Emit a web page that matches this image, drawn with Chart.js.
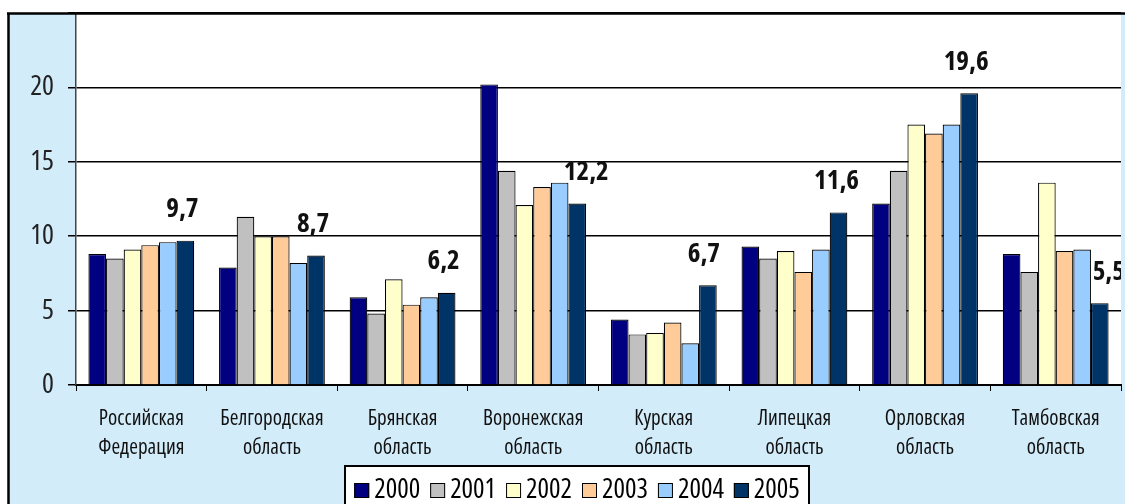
<!DOCTYPE html>
<html>
<head>
<meta charset="utf-8">
<script src="https://cdn.jsdelivr.net/npm/chart.js@4.4.1/dist/chart.umd.min.js"></script>
<style>
html,body{margin:0;padding:0;background:#fff;overflow:hidden;}
#wrap{position:relative;width:1125px;height:504px;}
</style>
</head>
<body>
<div id="wrap"><canvas id="c" width="1125" height="504"></canvas></div>
<script>
// ---- data ----
const categories = [
  ['Российская', 'Федерация'],
  ['Белгородская', 'область'],
  ['Брянская', 'область'],
  ['Воронежская', 'область'],
  ['Курская', 'область'],
  ['Липецкая', 'область'],
  ['Орловская', 'область'],
  ['Тамбовская', 'область']
];
const years = ['2000', '2001', '2002', '2003', '2004', '2005'];
const v2000 = [8.8, 7.9, 5.9, 20.2, 4.4, 9.3, 12.2, 8.8];
const v2001 = [8.5, 11.3, 4.8, 14.4, 3.4, 8.5, 14.4, 7.6];
const v2002 = [9.1, 10.0, 7.1, 12.1, 3.5, 9.0, 17.5, 13.6];
const v2003 = [9.4, 10.0, 5.4, 13.3, 4.2, 7.6, 16.9, 9.0];
const v2004 = [9.6, 8.2, 5.9, 13.6, 2.8, 9.1, 17.5, 9.1];
const v2005 = [9.7, 8.7, 6.2, 12.2, 6.7, 11.6, 19.6, 5.5];
const yTicks = [0, 5, 10, 15, 20];

// ---- styles ----
const seriesValues = [v2000, v2001, v2002, v2003, v2004, v2005];
const colors = ['#000080', '#C0C0C0', '#FFFFCC', '#FFCC99', '#99CCFF', '#003366'];
const FAMILY = "'Open Sans', 'DejaVu Sans Condensed', sans-serif";
const labelShift = [-3, -3, -3, 9, -4, -2, -3, 9];

const bgPlugin = {
  id: 'bg',
  beforeDraw(chart) {
    const ctx = chart.ctx, a = chart.chartArea;
    ctx.save();
    ctx.fillStyle = '#ffffff';
    ctx.fillRect(0, 0, chart.width, chart.height);
    ctx.fillStyle = '#D3ECFA';
    ctx.fillRect(8, 13, chart.width - 8, chart.height - 13);
    ctx.fillStyle = '#ffffff';
    ctx.fillRect(a.left, a.top, a.right - a.left, a.bottom - a.top);
    ctx.restore();
  },
  afterDraw(chart) {
    const ctx = chart.ctx;
    ctx.save();
    ctx.strokeStyle = '#000';
    ctx.lineWidth = 2.5;
    ctx.beginPath();
    ctx.moveTo(7, 13.5); ctx.lineTo(chart.width, 13.5);
    ctx.moveTo(8.5, 13); ctx.lineTo(8.5, chart.height);
    ctx.stroke();
    // legend
    ctx.font = 'condensed 27px ' + FAMILY;
    ctx.textBaseline = 'middle';
    ctx.textAlign = 'left';
    const items = chart.data.datasets.map(ds => ({ ds, w: ctx.measureText(ds.label).width }));
    const gap = 10, mk = 15, mkGap = 5;
    let total = 0;
    items.forEach(it => { total += mk + mkGap + it.w; });
    total += gap * (items.length - 1);
    const lx = 344, ly = 465, lw = 466, lh = 60;
    ctx.fillStyle = '#fff';
    ctx.fillRect(lx, ly, lw, lh);
    ctx.lineWidth = 2;
    ctx.strokeStyle = '#000';
    ctx.strokeRect(lx + 1, ly + 1, lw - 2, lh);
    let x = lx + (lw - total) / 2;
    const cy = 490;
    items.forEach(({ ds, w }) => {
      ctx.fillStyle = ds.backgroundColor;
      ctx.fillRect(x, cy - 7, mk, mk);
      ctx.lineWidth = 1;
      ctx.strokeStyle = '#000';
      ctx.strokeRect(x + 0.5, cy - 6.5, mk - 1, mk - 1);
      ctx.fillStyle = '#000';
      ctx.fillText(ds.label, x + mk + mkGap, cy);
      x += mk + mkGap + w + gap;
    });
    ctx.restore();
  }
};

const valueLabels = {
  id: 'valueLabels',
  afterDatasetsDraw(chart) {
    const ctx = chart.ctx, a = chart.chartArea;
    const di = chart.data.datasets.length - 1;
    const meta = chart.getDatasetMeta(di);
    const vals = chart.data.datasets[di].data;
    ctx.save();
    ctx.beginPath();
    ctx.rect(a.left, 0, a.right - a.left, chart.height);
    ctx.clip();
    ctx.font = 'bold condensed 27px ' + FAMILY;
    ctx.fillStyle = '#111';
    ctx.textAlign = 'center';
    ctx.textBaseline = 'middle';
    meta.data.forEach((bar, i) => {
      const t = vals[i].toFixed(1).replace('.', ',');
      ctx.fillText(t, bar.x + labelShift[i], bar.y - 31);
    });
    ctx.restore();
  }
};

new Chart(document.getElementById('c'), {
  type: 'bar',
  data: {
    labels: categories,
    datasets: years.map((y, i) => ({
      label: y,
      data: seriesValues[i],
      backgroundColor: colors[i],
      borderColor: '#000',
      borderWidth: 1.2,
      categoryPercentage: 0.81,
      barPercentage: 1.0
    }))
  },
  options: {
    responsive: false,
    devicePixelRatio: 1,
    animation: false,
    layout: { padding: { top: 13, right: 4, left: 0, bottom: 0 } },
    plugins: { legend: { display: false }, tooltip: { enabled: false } },
    scales: {
      x: {
        afterFit(s) { s.height = 119; s.paddingLeft = 0; s.paddingRight = 0; },
        grid: { display: true, drawOnChartArea: false, drawTicks: true, tickLength: 6, color: '#000', lineWidth: 1, offset: true },
        border: { display: true, color: '#000', width: 2 },
        ticks: {
          color: '#111',
          font: { family: FAMILY, size: 21, weight: 'condensed', lineHeight: 1.4 },
          padding: 13,
          maxRotation: 0,
          autoSkip: false
        }
      },
      y: {
        min: 0,
        max: 25,
        afterFit(s) { s.width = 76; s.paddingTop = 0; s.paddingBottom = 0; },
        afterBuildTicks(s) { s.ticks = yTicks.concat([25]).map(v => ({ value: v })); },
        grid: { color: '#000', lineWidth: 1.5, tickLength: 8, drawTicks: true },
        border: { display: true, color: '#444', width: 1.5 },
        ticks: {
          color: '#222',
          padding: 14,
          font: { family: FAMILY, size: 28, weight: 'condensed' },
          callback: (v) => (yTicks.includes(v) ? String(v) : '')
        }
      }
    }
  },
  plugins: [bgPlugin, valueLabels]
});
</script>
</body>
</html>
